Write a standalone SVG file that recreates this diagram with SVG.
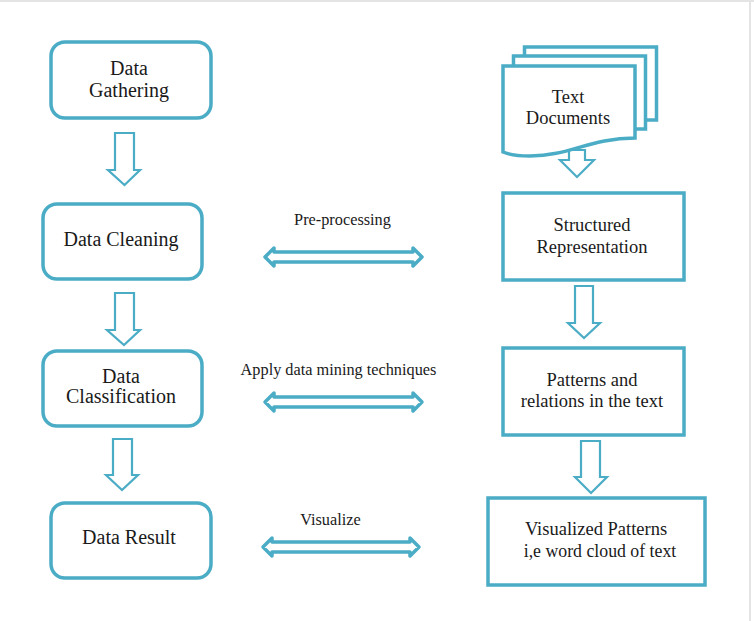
<svg xmlns="http://www.w3.org/2000/svg" width="754" height="621" viewBox="0 0 754 621">
<style>
.n{fill:#fff;stroke:#4bacc6;stroke-width:3.500}
.a{fill:#fff;stroke:#4bacc6;stroke-width:2.200;stroke-linejoin:miter}
.b{fill:#fff;stroke:#4bacc6;stroke-width:3.500;stroke-linejoin:round}
text{font-family:"Liberation Serif","Times New Roman",serif;font-size:18.500px;fill:#1a1a1a;text-anchor:middle}
.l{font-size:20px}
.s{font-size:16.300px}
.t{font-size:17.800px}
</style>
<rect width="754" height="621" fill="#fff"/>
<path d="M0 1H754M750 1V621" fill="none" stroke="#e4e4e4" stroke-width="2"/>
<g id="connectors">
<path class="a" d="M115 133H134V170H140L124.500 185L108 170H115Z"/>
<path class="a" d="M115 293H134V330H140L124 345L107 330H115Z"/>
<path class="a" d="M113 439H132V475H138L122 490L106 475H113Z"/>
<path class="a" d="M569 150H585V160H594L577 177L560 160H569Z"/>
<path class="a" d="M575 286H593V323H600L584 338L568 323H575Z"/>
<path class="a" d="M581 441H600V477H607L591 493L575 477H581Z"/>
<path class="b" d="M265 257L274 248V252H413V248L422 257L413 266V262H274V266Z"/>
<path class="b" d="M265 402L274 393V397H413V393L422 402L413 411V407H274V411Z"/>
<path class="b" d="M263 547L272 538V542H410V538L419 547L410 556V552H272V556Z"/>
</g>
<g id="data-gathering"><rect class="n" x="51" y="42" width="160" height="76" rx="14"/><text class="l" x="129" y="75">Data</text><text class="l" x="129" y="97">Gathering</text></g>
<g id="data-cleaning"><rect class="n" x="43" y="204" width="159" height="75" rx="14"/><text class="l" x="121" y="246">Data Cleaning</text></g>
<g id="data-classification"><rect class="n" x="43" y="351" width="159" height="75" rx="14"/><text class="l" x="121" y="383">Data</text><text class="l" x="121" y="403">Classification</text></g>
<g id="data-result"><rect class="n" x="51" y="503" width="160" height="75" rx="14"/><text class="l" x="129" y="544">Data Result</text></g>
<g id="text-documents">
<rect class="n" x="524.500" y="47" width="132" height="73"/>
<rect class="n" x="513.500" y="56" width="132" height="73"/>
<path class="n" d="M503 66H635V138C590 138 570 156 530 156C518 156 510 155 503 152Z"/>
<text x="568" y="103">Text</text><text x="568" y="124">Documents</text>
</g>
<g id="structured-representation"><rect class="n" x="503" y="193" width="181" height="87"/><text x="592" y="231">Structured</text><text x="592" y="253">Representation</text></g>
<g id="patterns-relations"><rect class="n" x="503" y="348" width="181" height="87"/><text x="592" y="386">Patterns and</text><text x="592" y="407">relations in the text</text></g>
<g id="visualized-patterns"><rect class="n" x="488" y="498" width="217" height="87"/><text x="596" y="535">Visualized Patterns</text><text class="t" x="600" y="557">i,e word cloud of text</text></g>
<g id="labels">
<text class="s" x="342.500" y="225">Pre-processing</text>
<text class="s" x="338.500" y="375">Apply data mining techniques</text>
<text class="s" x="330.500" y="525">Visualize</text>
</g>
</svg>
